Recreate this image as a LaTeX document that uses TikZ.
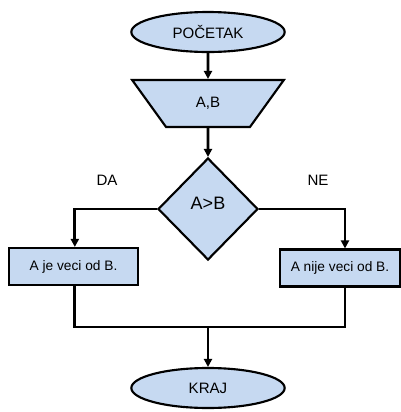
\documentclass[tikz,border=0pt]{standalone}
\usepackage{fontspec}
\setmainfont{Liberation Sans}
\usetikzlibrary{shapes.geometric,arrows.meta}
\definecolor{boxfill}{RGB}{198,217,241}

\begin{document}
\begin{tikzpicture}[x=0.75pt,y=-0.75pt,line width=2pt,
  >={Triangle[length=6pt,width=6pt]},
  term/.style={ellipse, draw, fill=boxfill, line width=1.6pt, minimum width=115pt,
    minimum height=30pt, inner sep=0pt, font=\fontsize{11.3}{13}\selectfont},
  inbox/.style={trapezium, shape border rotate=180, trapezium stretches=true,
    trapezium angle=51.4, draw, fill=boxfill, line width=1.6pt, minimum width=114pt,
    minimum height=35.25pt, inner sep=0pt, font=\fontsize{11.3}{13}\selectfont},
  cond/.style={diamond, draw, fill=boxfill, line width=1.6pt, minimum width=75pt,
    minimum height=76.5pt, inner sep=0pt, font=\fontsize{13.5}{15}\selectfont},
  act/.style={rectangle, draw, fill=boxfill, line width=1.6pt, minimum width=96.75pt,
    minimum height=27.75pt, inner sep=0pt, font=\fontsize{10.3}{12}\selectfont},
  lbl/.style={font=\fontsize{11.3}{13}\selectfont}]
\useasboundingbox (0,0) rectangle (401,412);
\node[term] (start) at (208,32) {POČETAK};
\node[inbox] (input) at (208,103.5) {A,B};
\node[cond] (dec) at (208,209) {\raisebox{8pt}{A>B}};
\node[act] (yes) at (73.5,266.5) {A je veci od B.};
\node[act, minimum width=90pt] (no) at (340,268) {A nije veci od B.};
\node[term] (end) at (208,388) {KRAJ};
\node[lbl] (da) at (107,180) {DA};
\node[lbl] (ne) at (318,180) {NE};
\coordinate (join) at (208,327);

\draw[->] (start) -- (input);
\draw[->] (input) -- (dec);
\draw[->] (dec.west) -| ([xshift=1pt]yes.north);
\draw[->] (dec.east) -| ([xshift=3.75pt]no.north);
\draw ([xshift=1pt]yes.south) |- (join) -| ([xshift=3.75pt]no.south);
\draw[->] (join) -- (end);

\end{tikzpicture}
\end{document}
